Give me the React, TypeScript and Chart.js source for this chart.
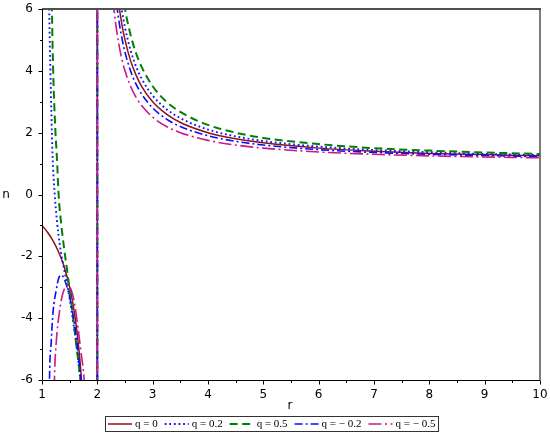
import React, { useEffect, useRef } from 'react';
import { Chart, registerables } from 'chart.js';

Chart.register(...registerables);

// ---- Series metadata ----
const seriesLabels = ['q = 0', 'q = 0.2', 'q = 0.5', 'q = − 0.2', 'q = − 0.5'];
const seriesColors = ['#8b1414', '#1414ff', '#008000', '#0a0aff', '#c8188c'];
const seriesDashes = [[], [1.8, 2.8], [8, 4.5], [8, 3, 2, 3], [13, 3.5, 2, 3.5]];
const seriesWidths = [1.5, 1.9, 2, 1.6, 1.6];

// ---- Left branch (1 <= r < 2) ----
const leftR0 = [1, 1.1, 1.2, 1.3, 1.4, 1.5, 1.55, 1.6, 1.65, 1.7, 1.75];
const leftN0 = [-1, -1.22, -1.5, -1.86, -2.33, -3, -3.44, -4, -4.71, -5.67, -7];

const leftR1 = [1.12, 1.13, 1.15, 1.17, 1.19, 1.23, 1.27, 1.32, 1.37, 1.42, 1.47, 1.52, 1.57, 1.62, 1.67, 1.71];
const leftN1 = [7.2, 6, 4.15, 2.6, 1.3, 0, -0.85, -1.6, -2.15, -2.6, -3.05, -3.6, -4.2, -4.85, -5.6, -6.3];

const leftR2 = [1.175, 1.18, 1.2, 1.24, 1.27, 1.3, 1.35, 1.4, 1.45, 1.5, 1.55, 1.6, 1.65, 1.69, 1.72];
const leftN2 = [7, 6, 4.14, 2.14, 1.17, 0, -1, -1.75, -2.4, -3.1, -3.8, -4.55, -5.3, -5.94, -6.5];

const leftR3 = [1.13, 1.136, 1.166, 1.2, 1.257, 1.3, 1.347, 1.4, 1.45, 1.51, 1.61, 1.68, 1.73];
const leftN3 = [-7, -5.95, -4.8, -3.8, -3.09, -2.72, -2.6, -2.72, -2.98, -3.4, -4.48, -5.57, -6.5];

const leftR4 = [1.215, 1.226, 1.257, 1.32, 1.376, 1.47, 1.53, 1.58, 1.65, 1.7, 1.76, 1.78];
const leftN4 = [-7, -5.9, -4.8, -3.74, -3.2, -2.93, -3.1, -3.45, -4.3, -5.03, -5.94, -6.5];

// ---- Right branch (r > 2) ----
const rightR = [2.25, 2.3, 2.35, 2.4, 2.45, 2.5, 2.6, 2.7, 2.8, 3, 3.25, 3.5, 4, 4.5, 5, 6, 7, 8, 9, 10];
const rightN0 = [9, 7.67, 6.71, 6, 5.44, 5, 4.33, 3.86, 3.5, 3, 2.6, 2.33, 2, 1.8, 1.67, 1.5, 1.4, 1.33, 1.29, 1.25];
const rightN1 = [9.8, 8.33, 7.29, 6.5, 5.89, 5.4, 4.67, 4.14, 3.75, 3.2, 2.76, 2.47, 2.1, 1.88, 1.73, 1.55, 1.44, 1.37, 1.31, 1.275];
const rightN2 = [11, 9.33, 8.14, 7.25, 6.56, 6, 5.17, 4.57, 4.13, 3.5, 3, 2.67, 2.25, 2, 1.83, 1.63, 1.5, 1.42, 1.36, 1.31];
const rightN3 = [8.2, 7, 6.14, 5.5, 5.0, 4.6, 4, 3.57, 3.25, 2.8, 2.44, 2.2, 1.9, 1.72, 1.6, 1.45, 1.36, 1.3, 1.26, 1.225];
const rightN4 = [7, 6, 5.29, 4.75, 4.33, 4, 3.5, 3.14, 2.875, 2.5, 2.2, 2, 1.75, 1.6, 1.5, 1.375, 1.3, 1.25, 1.214, 1.1875];

// ---- Asymptote drawn by every curve at r = 2 ----
const asymptoteR = [2, 2];
const asymptoteN = [-6.5, 6.5];

// ---- Axes ----
const xRange = [1, 10];
const yRange = [-6, 6];
const xMajorTicks = [1, 2, 3, 4, 5, 6, 7, 8, 9, 10];
const xMinorTicks = [1.5, 2.5, 3.5, 4.5, 5.5, 6.5, 7.5, 8.5, 9.5];
const yMajorTicks = [-6, -4, -2, 0, 2, 4, 6];
const yMinorTicks = [-5, -3, -1, 1, 3, 5];
const xTitle = 'r';
const yTitle = 'n';

const leftRs = [leftR0, leftR1, leftR2, leftR3, leftR4];
const leftNs = [leftN0, leftN1, leftN2, leftN3, leftN4];
const rightNs = [rightN0, rightN1, rightN2, rightN3, rightN4];

const zip = (xs: number[], ys: number[]) => xs.map((x, i) => ({ x, y: ys[i] }));

const decorPlugin = {
  id: 'decor',
  afterDraw(chart: any) {
    const { ctx, chartArea: a, scales } = chart;
    const xs = scales.x;
    const ys = scales.y;
    ctx.save();
    ctx.setLineDash([]);
    // frame top / right
    ctx.strokeStyle = '#505050';
    ctx.lineWidth = 2;
    ctx.beginPath();
    ctx.moveTo(a.left, a.top);
    ctx.lineTo(a.right + 1, a.top);
    ctx.stroke();
    ctx.lineWidth = 1.5;
    ctx.beginPath();
    ctx.moveTo(a.right, a.top);
    ctx.lineTo(a.right, a.bottom);
    ctx.stroke();
    // axes
    ctx.strokeStyle = '#000';
    ctx.lineWidth = 1;
    ctx.beginPath();
    ctx.moveTo(a.left + 0.5, a.top);
    ctx.lineTo(a.left + 0.5, a.bottom + 0.5);
    ctx.lineTo(a.right, a.bottom + 0.5);
    ctx.stroke();
    // ticks
    const tick = (px: number, py: number, dx: number, dy: number) => {
      ctx.beginPath();
      ctx.moveTo(px, py);
      ctx.lineTo(px + dx, py + dy);
      ctx.stroke();
    };
    xMajorTicks.forEach((v) => tick(Math.round(xs.getPixelForValue(v)) + 0.5, a.bottom + 0.5, 0, 4));
    xMinorTicks.forEach((v) => tick(Math.round(xs.getPixelForValue(v)) + 0.5, a.bottom + 0.5, 0, 2.5));
    yMajorTicks.forEach((v) => tick(a.left + 0.5, Math.round(ys.getPixelForValue(v)) + 0.5, -4, 0));
    yMinorTicks.forEach((v) => tick(a.left + 0.5, Math.round(ys.getPixelForValue(v)) + 0.5, -2.5, 0));
    // tick labels
    ctx.fillStyle = '#000';
    ctx.font = '12px "DejaVu Sans"';
    ctx.textAlign = 'center';
    ctx.textBaseline = 'middle';
    xMajorTicks.forEach((v) => ctx.fillText(String(v), xs.getPixelForValue(v), a.bottom + 15));
    ctx.textAlign = 'right';
    yMajorTicks.forEach((v) => ctx.fillText(String(v), a.left - 9, ys.getPixelForValue(v)));
    // axis titles
    ctx.font = '12px "DejaVu Sans"';
    ctx.textAlign = 'center';
    ctx.fillText(yTitle, 6, ys.getPixelForValue(0));
    ctx.fillText(xTitle, 290, 406);
    // legend
    ctx.font = '11px "Liberation Serif"';
    const lineLen = 24;
    const gapLT = 3;
    const gapItem = 7;
    const textW = seriesLabels.map((t) => ctx.measureText(t).width);
    const total = textW.reduce((s, w) => s + w + lineLen + gapLT, 0) + gapItem * (seriesLabels.length - 1);
    const ly = 424;
    let x = 271.7 - total / 2;
    ctx.strokeStyle = '#333';
    ctx.lineWidth = 1;
    ctx.strokeRect(Math.round(x - 3) + 0.5, 416.5, Math.round(total + 6), 15);
    seriesLabels.forEach((t, i) => {
      ctx.strokeStyle = seriesColors[i];
      ctx.lineWidth = seriesWidths[i];
      ctx.setLineDash(seriesDashes[i]);
      ctx.beginPath();
      ctx.moveTo(x, ly);
      ctx.lineTo(x + lineLen, ly);
      ctx.stroke();
      ctx.setLineDash([]);
      x += lineLen + gapLT;
      ctx.textAlign = 'left';
      ctx.fillStyle = '#000';
      ctx.fillText(t, x, ly + 0.5);
      x += textW[i] + gapItem;
    });
    ctx.restore();
  },
};

export default function App() {
  const canvasRef = useRef<HTMLCanvasElement | null>(null);

  useEffect(() => {
    document.body.style.margin = '0';
    const canvas = canvasRef.current;
    if (!canvas) return;
    const datasets: any[] = [];
    seriesLabels.forEach((label, i) => {
      const common = {
        label,
        borderColor: seriesColors[i],
        backgroundColor: 'transparent',
        borderWidth: seriesWidths[i],
        borderDash: seriesDashes[i],
        pointRadius: 0,
        pointHoverRadius: 0,
        fill: false,
        cubicInterpolationMode: 'monotone',
        clip: 0,
        order: 5 - i,
      };
      datasets.push({ ...common, data: zip(leftRs[i], leftNs[i]) });
      datasets.push({ ...common, data: zip(asymptoteR, asymptoteN), cubicInterpolationMode: 'default', tension: 0 });
      datasets.push({ ...common, data: zip(rightR, rightNs[i]) });
    });

    const chart = new Chart(canvas, {
      type: 'line',
      data: { datasets },
      options: {
        responsive: false,
        animation: false,
        events: [],
        layout: { padding: { left: 0, right: 10, top: 9, bottom: 0 } },
        plugins: { legend: { display: false }, tooltip: { enabled: false } },
        scales: {
          x: {
            type: 'linear',
            min: xRange[0],
            max: xRange[1],
            grid: { display: false },
            border: { display: false },
            afterFit: (s: any) => { s.height = 56; },
            ticks: { display: false, stepSize: 1 },
          },
          y: {
            type: 'linear',
            min: yRange[0],
            max: yRange[1],
            grid: { display: false },
            border: { display: false },
            afterFit: (s: any) => { s.width = 42; },
            ticks: { display: false, stepSize: 2 },
          },
        },
      } as any,
      plugins: [decorPlugin],
    });
    return () => chart.destroy();
  }, []);

  return (
    <div style={{ width: 550, height: 436 }}>
      <canvas ref={canvasRef} width={550} height={436} />
    </div>
  );
}
